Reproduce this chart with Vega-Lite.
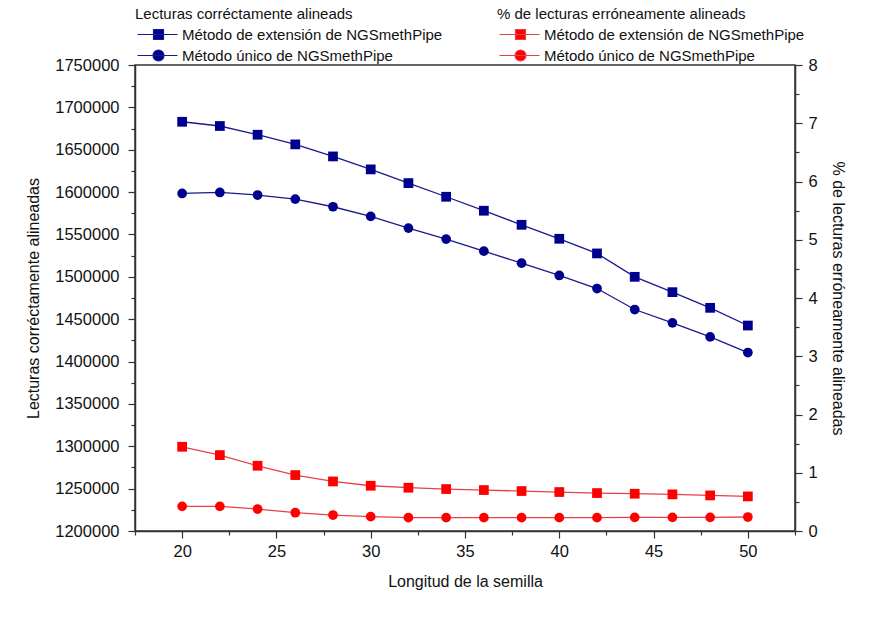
{
  "$schema": "https://vega.github.io/schema/vega-lite/v6.json",
  "width": 660,
  "height": 466,
  "autosize": "none",
  "padding": {"left": 135, "top": 65, "right": 82, "bottom": 91},
  "background": "white",
  "config": {
    "font": "Liberation Sans",
    "view": {"stroke": "#333333", "strokeWidth": 1.5},
    "axis": {
      "grid": false,
      "domainColor": "#333333",
      "domainWidth": 1.5,
      "tickColor": "#333333",
      "tickWidth": 1.2,
      "labelFont": "Liberation Sans",
      "labelFontSize": 16.5,
      "labelColor": "#111111",
      "titleFont": "Liberation Sans",
      "titleFontSize": 16,
      "titleFontWeight": "normal",
      "titleColor": "#111111"
    },
    "legend": {
      "labelFont": "Liberation Sans",
      "labelFontSize": 15,
      "labelColor": "#111111",
      "labelLimit": 400,
      "titleLimit": 400,
      "titleFont": "Liberation Sans",
      "titleFontSize": 15,
      "titleFontWeight": "normal",
      "titleColor": "#111111"
    }
  },
  "data": {
    "values": [
      {"len": 20, "g": "c", "m": "Método de extensión de NGSmethPipe", "v": 1683000},
      {"len": 22, "g": "c", "m": "Método de extensión de NGSmethPipe", "v": 1678000},
      {"len": 24, "g": "c", "m": "Método de extensión de NGSmethPipe", "v": 1667700},
      {"len": 26, "g": "c", "m": "Método de extensión de NGSmethPipe", "v": 1656300},
      {"len": 28, "g": "c", "m": "Método de extensión de NGSmethPipe", "v": 1642100},
      {"len": 30, "g": "c", "m": "Método de extensión de NGSmethPipe", "v": 1626800},
      {"len": 32, "g": "c", "m": "Método de extensión de NGSmethPipe", "v": 1610600},
      {"len": 34, "g": "c", "m": "Método de extensión de NGSmethPipe", "v": 1594500},
      {"len": 36, "g": "c", "m": "Método de extensión de NGSmethPipe", "v": 1578000},
      {"len": 38, "g": "c", "m": "Método de extensión de NGSmethPipe", "v": 1561400},
      {"len": 40, "g": "c", "m": "Método de extensión de NGSmethPipe", "v": 1544900},
      {"len": 42, "g": "c", "m": "Método de extensión de NGSmethPipe", "v": 1527600},
      {"len": 44, "g": "c", "m": "Método de extensión de NGSmethPipe", "v": 1500000},
      {"len": 46, "g": "c", "m": "Método de extensión de NGSmethPipe", "v": 1481900},
      {"len": 48, "g": "c", "m": "Método de extensión de NGSmethPipe", "v": 1463400},
      {"len": 50, "g": "c", "m": "Método de extensión de NGSmethPipe", "v": 1442500},
      {"len": 20, "g": "c", "m": "Método único de NGSmethPipe", "v": 1598400},
      {"len": 22, "g": "c", "m": "Método único de NGSmethPipe", "v": 1599600},
      {"len": 24, "g": "c", "m": "Método único de NGSmethPipe", "v": 1596500},
      {"len": 26, "g": "c", "m": "Método único de NGSmethPipe", "v": 1591700},
      {"len": 28, "g": "c", "m": "Método único de NGSmethPipe", "v": 1582700},
      {"len": 30, "g": "c", "m": "Método único de NGSmethPipe", "v": 1571300},
      {"len": 32, "g": "c", "m": "Método único de NGSmethPipe", "v": 1557500},
      {"len": 34, "g": "c", "m": "Método único de NGSmethPipe", "v": 1544500},
      {"len": 36, "g": "c", "m": "Método único de NGSmethPipe", "v": 1530300},
      {"len": 38, "g": "c", "m": "Método único de NGSmethPipe", "v": 1516100},
      {"len": 40, "g": "c", "m": "Método único de NGSmethPipe", "v": 1501600},
      {"len": 42, "g": "c", "m": "Método único de NGSmethPipe", "v": 1486200},
      {"len": 44, "g": "c", "m": "Método único de NGSmethPipe", "v": 1461400},
      {"len": 46, "g": "c", "m": "Método único de NGSmethPipe", "v": 1445700},
      {"len": 48, "g": "c", "m": "Método único de NGSmethPipe", "v": 1429100},
      {"len": 50, "g": "c", "m": "Método único de NGSmethPipe", "v": 1410600},
      {"len": 20, "g": "e", "m": "Método de extensión de NGSmethPipe", "v": 1.446},
      {"len": 22, "g": "e", "m": "Método de extensión de NGSmethPipe", "v": 1.303},
      {"len": 24, "g": "e", "m": "Método de extensión de NGSmethPipe", "v": 1.12},
      {"len": 26, "g": "e", "m": "Método de extensión de NGSmethPipe", "v": 0.96},
      {"len": 28, "g": "e", "m": "Método de extensión de NGSmethPipe", "v": 0.851},
      {"len": 30, "g": "e", "m": "Método de extensión de NGSmethPipe", "v": 0.777},
      {"len": 32, "g": "e", "m": "Método de extensión de NGSmethPipe", "v": 0.743},
      {"len": 34, "g": "e", "m": "Método de extensión de NGSmethPipe", "v": 0.72},
      {"len": 36, "g": "e", "m": "Método de extensión de NGSmethPipe", "v": 0.703},
      {"len": 38, "g": "e", "m": "Método de extensión de NGSmethPipe", "v": 0.686},
      {"len": 40, "g": "e", "m": "Método de extensión de NGSmethPipe", "v": 0.669},
      {"len": 42, "g": "e", "m": "Método de extensión de NGSmethPipe", "v": 0.651},
      {"len": 44, "g": "e", "m": "Método de extensión de NGSmethPipe", "v": 0.64},
      {"len": 46, "g": "e", "m": "Método de extensión de NGSmethPipe", "v": 0.629},
      {"len": 48, "g": "e", "m": "Método de extensión de NGSmethPipe", "v": 0.611},
      {"len": 50, "g": "e", "m": "Método de extensión de NGSmethPipe", "v": 0.594},
      {"len": 20, "g": "e", "m": "Método único de NGSmethPipe", "v": 0.423},
      {"len": 22, "g": "e", "m": "Método único de NGSmethPipe", "v": 0.423},
      {"len": 24, "g": "e", "m": "Método único de NGSmethPipe", "v": 0.377},
      {"len": 26, "g": "e", "m": "Método único de NGSmethPipe", "v": 0.314},
      {"len": 28, "g": "e", "m": "Método único de NGSmethPipe", "v": 0.274},
      {"len": 30, "g": "e", "m": "Método único de NGSmethPipe", "v": 0.246},
      {"len": 32, "g": "e", "m": "Método único de NGSmethPipe", "v": 0.229},
      {"len": 34, "g": "e", "m": "Método único de NGSmethPipe", "v": 0.229},
      {"len": 36, "g": "e", "m": "Método único de NGSmethPipe", "v": 0.229},
      {"len": 38, "g": "e", "m": "Método único de NGSmethPipe", "v": 0.229},
      {"len": 40, "g": "e", "m": "Método único de NGSmethPipe", "v": 0.229},
      {"len": 42, "g": "e", "m": "Método único de NGSmethPipe", "v": 0.229},
      {"len": 44, "g": "e", "m": "Método único de NGSmethPipe", "v": 0.234},
      {"len": 46, "g": "e", "m": "Método único de NGSmethPipe", "v": 0.234},
      {"len": 48, "g": "e", "m": "Método único de NGSmethPipe", "v": 0.234},
      {"len": 50, "g": "e", "m": "Método único de NGSmethPipe", "v": 0.24}
    ]
  },
  "encoding": {
    "x": {
      "field": "len",
      "type": "quantitative",
      "scale": {"domain": [17.5, 52.5], "nice": false, "zero": false},
      "axis": {
        "title": "Longitud de la semilla",
        "values": [17.5, 20, 22.5, 25, 27.5, 30, 32.5, 35, 37.5, 40, 42.5, 45, 47.5, 50, 52.5],
        "labelExpr": "datum.value % 5 === 0 ? datum.label : ''",
        "tickSize": {"condition": {"test": "datum.value % 5 === 0", "value": 7}, "value": 4},
        "labelPadding": 5,
        "titlePadding": 14,
        "labelFlush": false,
        "labelOverlap": false
      }
    }
  },
  "layer": [
    {
      "transform": [{"filter": "datum.g === 'c'"}],
      "encoding": {
        "y": {
          "field": "v",
          "type": "quantitative",
          "scale": {"domain": [1200000, 1750000], "nice": false, "zero": false},
          "axis": {
            "orient": "left",
            "title": "Lecturas corréctamente alineadas",
            "values": [1200000, 1225000, 1250000, 1275000, 1300000, 1325000, 1350000, 1375000, 1400000, 1425000, 1450000, 1475000, 1500000, 1525000, 1550000, 1575000, 1600000, 1625000, 1650000, 1675000, 1700000, 1725000, 1750000],
            "format": "d",
            "labelExpr": "datum.value % 50000 === 0 ? datum.label : ''",
            "tickSize": {"condition": {"test": "datum.value % 50000 === 0", "value": 7}, "value": 4},
            "labelPadding": 9,
            "titlePadding": 13,
            "labelFlush": false,
            "labelOverlap": false
          }
        }
      },
      "layer": [
        {
          "mark": {"type": "line", "strokeWidth": 1.3},
          "encoding": {
            "color": {
              "field": "m",
              "type": "nominal",
              "scale": {"domain": ["Método de extensión de NGSmethPipe", "Método único de NGSmethPipe"], "range": ["#1a1a8c", "#1a1a8c"]},
              "legend": {
                "title": "Lecturas corréctamente alineads",
                "orient": "none",
                "legendX": 0,
                "legendY": -58,
                "symbolSize": 100,
                "symbolOffset": 0,
                "labelOffset": 32,
                "rowPadding": 4,
                "titlePadding": 5,
                "symbolStrokeWidth": 1.2,
                "encode": {
                  "symbols": {
                    "update": {
                      "shape": {"signal": "datum.value === 'Método único de NGSmethPipe' ? 'M-1,0H7M2.1,0A1.1,1.1 0 1,0 4.3,0A1.1,1.1 0 1,0 2.1,0Z' : 'M-1,0H7M2.2,-1H4.2V1H2.2Z'"},
                      "fill": {"value": "#00008f"},
                      "stroke": {"value": "#1a1a8c"},
                      "opacity": {"value": 1}
                    }
                  }
                }
              }
            }
          }
        },
        {
          "mark": {"type": "point", "filled": true, "opacity": 1, "color": "#00008f"},
          "encoding": {
            "shape": {"condition": {"test": "datum.m === 'Método único de NGSmethPipe'", "value": "circle"}, "value": "square"},
            "size": {"value": 95}
          }
        }
      ]
    },
    {
      "transform": [{"filter": "datum.g === 'e'"}],
      "encoding": {
        "y": {
          "field": "v",
          "type": "quantitative",
          "scale": {"domain": [0, 8], "nice": false, "zero": false},
          "axis": {
            "orient": "right",
            "title": "% de lecturas erróneamente alineadas",
            "values": [0, 0.5, 1, 1.5, 2, 2.5, 3, 3.5, 4, 4.5, 5, 5.5, 6, 6.5, 7, 7.5, 8],
            "format": "~g",
            "labelExpr": "datum.value % 1 === 0 ? datum.label : ''",
            "tickSize": {"condition": {"test": "datum.value % 1 === 0", "value": 7}, "value": 4},
            "labelPadding": 6,
            "titlePadding": 12,
            "labelFlush": false,
            "labelOverlap": false
          }
        }
      },
      "layer": [
        {
          "mark": {"type": "line", "strokeWidth": 1.3},
          "encoding": {
            "color": {
              "field": "m",
              "type": "nominal",
              "scale": {"domain": ["Método de extensión de NGSmethPipe", "Método único de NGSmethPipe"], "range": ["#e8404a", "#e8404a"]},
              "legend": {
                "title": "% de lecturas erróneamente alineads",
                "orient": "none",
                "legendX": 362,
                "legendY": -58,
                "symbolSize": 100,
                "symbolOffset": 0,
                "labelOffset": 32,
                "rowPadding": 4,
                "titlePadding": 5,
                "symbolStrokeWidth": 1.2,
                "encode": {
                  "symbols": {
                    "update": {
                      "shape": {"signal": "datum.value === 'Método único de NGSmethPipe' ? 'M-1,0H7M2.1,0A1.1,1.1 0 1,0 4.3,0A1.1,1.1 0 1,0 2.1,0Z' : 'M-1,0H7M2.2,-1H4.2V1H2.2Z'"},
                      "fill": {"value": "#ff0000"},
                      "stroke": {"value": "#e8404a"},
                      "opacity": {"value": 1}
                    }
                  }
                }
              }
            }
          }
        },
        {
          "mark": {"type": "point", "filled": true, "opacity": 1, "color": "#ff0000"},
          "encoding": {
            "shape": {"condition": {"test": "datum.m === 'Método único de NGSmethPipe'", "value": "circle"}, "value": "square"},
            "size": {"value": 95}
          }
        }
      ]
    }
  ],
  "resolve": {"scale": {"y": "independent", "color": "independent"}}
}
